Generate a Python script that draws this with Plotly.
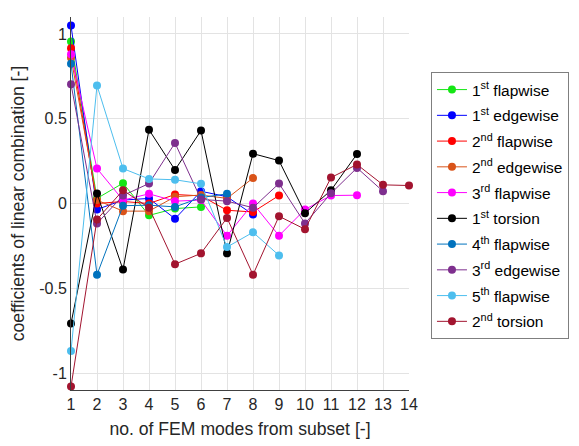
import plotly.graph_objects as go

# Mode subset sizes along the x axis
n_modes = list(range(1, 15))

# Coefficients of the linear combination, one list per identified mode
first_flapwise = [0.955, 0.03, 0.12, -0.07, -0.03, -0.02]
first_edgewise = [1.05, -0.035, 0.02, 0.03, -0.09, 0.072, 0.04, -0.065]
second_flapwise = [0.915, 0.0, 0.012, 0.0, 0.053, 0.045, -0.04, -0.05, 0.047]
second_edgewise = [0.86, 0.02, -0.045, -0.045, 0.04, 0.05, 0.03, 0.15]
third_flapwise = [0.88, 0.206, 0.02, 0.057, 0.014, 0.02, -0.19, 0.0, -0.19, -0.035, 0.047, 0.049]
first_torsion = [-0.708, 0.059, -0.39, 0.435, 0.198, 0.43, -0.294, 0.294, 0.253, -0.057, 0.078, 0.292]
fourth_flapwise = [0.825, -0.42, -0.013, -0.01, -0.02, 0.035, 0.057]
third_edgewise = [0.704, -0.118, 0.047, 0.118, 0.357, 0.024, 0.014, -0.025, 0.118, -0.118, 0.06, 0.21, 0.072]
fifth_flapwise = [-0.87, 0.696, 0.206, 0.145, 0.14, 0.116, -0.257, -0.17, -0.306]
second_torsion = [-1.08, -0.094, 0.078, -0.025, -0.358, -0.294, -0.085, -0.42, -0.075, -0.152, 0.153, 0.23, 0.11, 0.106]

series = [
    ("1<sup>st</sup> flapwise", first_flapwise, "#14e614"),
    ("1<sup>st</sup> edgewise", first_edgewise, "#0000ff"),
    ("2<sup>nd</sup> flapwise", second_flapwise, "#ff0000"),
    ("2<sup>nd</sup> edgewise", second_edgewise, "#d95319"),
    ("3<sup>rd</sup> flapwise", third_flapwise, "#ff00ff"),
    ("1<sup>st</sup> torsion", first_torsion, "#000000"),
    ("4<sup>th</sup> flapwise", fourth_flapwise, "#0072bd"),
    ("3<sup>rd</sup> edgewise", third_edgewise, "#7e2f8e"),
    ("5<sup>th</sup> flapwise", fifth_flapwise, "#4dbeee"),
    ("2<sup>nd</sup> torsion", second_torsion, "#a2142f"),
]

font_family = "Liberation Sans, Arial, sans-serif"

fig = go.Figure()
for i, (name, values, color) in enumerate(series):
    fig.add_trace(go.Scatter(
        x=n_modes[:len(values)],
        y=values,
        name=name,
        legendgroup=f"g{i}",
        mode="lines+markers",
        line=dict(color=color, width=1),
        marker=dict(color=color, size=8),
        cliponaxis=False,
    ))

fig.update_layout(
    width=579,
    height=446,
    margin=dict(l=71, r=170, t=17, b=56, autoexpand=False),
    paper_bgcolor="white",
    plot_bgcolor="white",
    font=dict(family=font_family, color="#262626"),
    showlegend=True,
    legend=dict(
        x=1.065, y=0.8525, xanchor="left", yanchor="top",
        bordercolor="#7f7f7f", borderwidth=1, bgcolor="white",
        font=dict(size=15.5, color="#000000"),
        tracegroupgap=2.6,
        entrywidth=130, entrywidthmode="pixels",
    ),
    xaxis=dict(
        range=[1, 14],
        tickvals=n_modes,
        showgrid=True, gridcolor="#e3e3e3", gridwidth=1,
        showline=True, linecolor="#404040", linewidth=1,
        zeroline=False,
        ticks="",
        tickfont=dict(size=16),
        title=dict(text="no. of FEM modes from subset [-]", font=dict(size=17.6), standoff=10),
    ),
    yaxis=dict(
        range=[-1.1, 1.1],
        tickvals=[-1, -0.5, 0, 0.5, 1],
        ticktext=["-1", "-0.5", "0", "0.5", "1"],
        showgrid=True, gridcolor="#e3e3e3", gridwidth=1,
        showline=True, linecolor="#404040", linewidth=1,
        zeroline=False,
        ticks="",
        tickfont=dict(size=16),
        title=dict(text="coefficients of linear combination [-]", font=dict(size=17.6), standoff=10),
    ),
)

fig.write_html("out.html")
